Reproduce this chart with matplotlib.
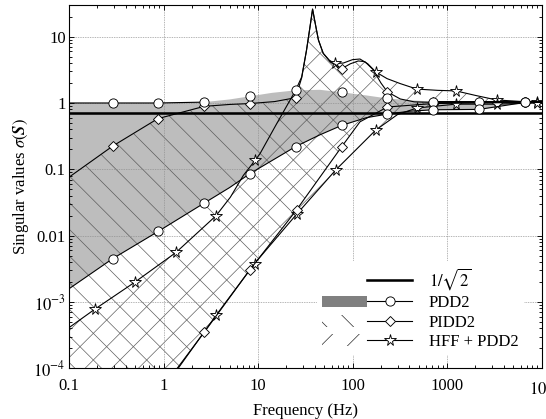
import numpy as np
import matplotlib
matplotlib.use("Agg")
import matplotlib.pyplot as plt
from matplotlib.patches import Patch
from matplotlib.lines import Line2D
from matplotlib.legend_handler import HandlerTuple
from matplotlib.ticker import FixedLocator, NullFormatter, LogLocator

# ---------------- data ----------------
pdd2_freq = [0.1, 0.29, 0.88, 2.7, 5, 8.2, 14, 25, 45, 77, 140, 234, 400, 710, 2180, 6700, 10000]
pdd2_max = [1.0, 1.0, 1.0, 1.03, 1.13, 1.26, 1.42, 1.55, 1.58, 1.45, 1.3, 1.17, 1.1, 1.05, 1.05, 1.05, 1.05]
pdd2_min = [1.58e-3, 4.5e-3, 0.0116, 0.031, 0.053, 0.086, 0.135, 0.22, 0.33, 0.46, 0.6, 0.68, 0.75, 0.79, 0.80, 1.02, 1.03]
pdd2_max_line_shown = [1, 1, 1, 1, 0, 0, 0, 0, 0, 0, 0, 0, 0, 1, 1, 1, 1]
pdd2_markers = [1, 2, 3, 5, 7, 9, 11, 13, 14, 15]

pidd2_max_freq = [0.1, 0.29, 0.87, 2.7, 5, 8.2, 15, 25, 29, 32.6, 35.5, 37.8, 41, 43.6, 49, 57,
                  77, 95, 115, 135, 165, 200, 234, 320, 450, 710, 2180, 6700, 10000]
pidd2_max = [0.076, 0.224, 0.58, 0.89, 0.95, 0.98, 1.05, 1.2, 2.4, 6.2, 14, 26, 14, 8.9, 5.6, 4.3,
             3.3, 3.9, 4.3, 4.2, 3.2, 2.0, 1.47, 1.15, 1.04, 1.02, 1.02, 1.03, 1.03]
pidd2_max_markers = [1, 2, 3, 5, 7, 16, 22, 25, 26, 27]

pidd2_min_freq = [0.1, 0.3, 1.0, 2.7, 8.2, 25.6, 77, 120, 234, 710, 2180, 6700, 10000]
pidd2_min = [5.5e-7, 5e-6, 5.3e-5, 3.5e-4, 3.05e-3, 0.0245, 0.22, 0.52, 0.87, 0.98, 1.0, 1.02, 1.02]
pidd2_min_markers = [3, 4, 5, 6, 8, 9, 10, 11]

hff_max_freq = [0.1, 0.188, 0.5, 1.36, 3.6, 5.1, 7.0, 9.3, 10.5, 15.8, 25, 29, 32.6, 35.5, 37.8, 41,
                43.6, 49, 57, 65, 80, 100, 120, 145, 176, 232, 320, 480, 800, 1245, 2000, 3350, 8900, 10000]
hff_max = [4.1e-4, 7.8e-4, 2.0e-3, 5.6e-3, 0.02, 0.038, 0.081, 0.136, 0.172, 0.49, 1.55, 2.47, 6.25, 14,
           26, 14, 8.9, 5.6, 4.4, 3.94, 4.0, 4.5, 4.6, 3.9, 2.94, 2.33, 1.96, 1.62, 1.55, 1.52, 1.3, 1.11, 1.02, 1.02]
hff_max_markers = [1, 2, 3, 4, 7, 19, 24, 27, 29, 31, 32]

hff_min_freq = [0.1, 0.3, 1.0, 3.6, 9.2, 25.6, 67, 176, 300, 480, 1245, 3350, 8900, 10000]
hff_min = [4.9e-7, 4.4e-6, 4.9e-5, 6.3e-4, 3.8e-3, 0.021, 0.099, 0.39, 0.67, 0.84, 0.96, 0.96, 1.0, 1.0]
hff_min_markers = [3, 4, 5, 6, 7, 9, 10, 11, 12]

one_over_sqrt2 = 0.7071

x_ticks = [0.1, 1, 10, 100, 1000, 10000]
x_tick_labels = ["0.1", "1", "10", "100", "1000", r"$10^4$"]
y_ticks = [1e-4, 1e-3, 0.01, 0.1, 1, 10]
y_tick_labels = [r"$10^{-4}$", r"$10^{-3}$", "0.01", "0.1", "1", "10"]

legend_labels = [r"$1/\sqrt{2}$", "PDD2", "PIDD2", "HFF + PDD2"]

# ---------------- style ----------------
plt.rcParams["font.family"] = "serif"
plt.rcParams["font.serif"] = ["Liberation Serif", "DejaVu Serif"]
plt.rcParams["mathtext.fontset"] = "stix"
plt.rcParams["hatch.linewidth"] = 0.6
plt.rcParams["font.size"] = 15

DPI = 80
fig = plt.figure(figsize=(546 / DPI, 419 / DPI), dpi=DPI)
ax = fig.add_axes([69 / 546, (419 - 368.3) / 419, (541.5 - 69) / 546, (368.3 - 5) / 419])
ax.set_xscale("log")
ax.set_yscale("log")

gray = "#bdbdbd"
hatch_col = "#5a5a5a"

# fills
ax.fill_between(pdd2_freq, pdd2_min, pdd2_max, facecolor=gray, edgecolor="none", linewidth=0, zorder=0.5)
ax.fill(np.concatenate([pidd2_max_freq, pidd2_min_freq[::-1]]),
        np.concatenate([pidd2_max, pidd2_min[::-1]]),
        facecolor="none", edgecolor=hatch_col, hatch="\\", linewidth=0, zorder=0.8)
ax.fill(np.concatenate([hff_max_freq, hff_min_freq[::-1]]),
        np.concatenate([hff_max, hff_min[::-1]]),
        facecolor="none", edgecolor=hatch_col, hatch="/", linewidth=0, zorder=0.8)

# grid
ax.set_axisbelow("line")
ax.grid(True, which="major", color="#8c8c8c", linestyle=(0, (1, 1.2)), linewidth=0.7)

lw = 1.0
mk = dict(markerfacecolor="white", markeredgecolor="black", markeredgewidth=0.8)

# 1/sqrt2
ax.axhline(one_over_sqrt2, color="black", linewidth=2.3, zorder=3)

# HFF + PDD2 (stars)
ax.plot(hff_max_freq, hff_max, color="black", lw=lw, marker="*", ms=10.5, markevery=hff_max_markers, zorder=4, **mk)
ax.plot(hff_min_freq, hff_min, color="black", lw=lw, marker="*", ms=10.5, markevery=hff_min_markers, zorder=4, **mk)
# PIDD2 (diamonds)
ax.plot(pidd2_max_freq, pidd2_max, color="black", lw=lw, marker="D", ms=6.3, markevery=pidd2_max_markers, zorder=5, **mk)
ax.plot(pidd2_min_freq, pidd2_min, color="black", lw=lw, marker="D", ms=6.3, markevery=pidd2_min_markers, zorder=5, **mk)
# PDD2 (circles)
pf = np.array(pdd2_freq)
pmax = np.array(pdd2_max)
shown = np.array(pdd2_max_line_shown, dtype=bool)
ax.plot(pf, np.where(shown, pmax, np.nan), color="black", lw=lw, zorder=6)
ax.plot(pf[pdd2_markers], pmax[pdd2_markers], linestyle="none", marker="o", ms=8.3, zorder=6, **mk)
ax.plot(pdd2_freq, pdd2_min, color="black", lw=lw, marker="o", ms=8.3, markevery=pdd2_markers, zorder=6, **mk)

# axes
ax.set_xlim(0.1, 10000)
ax.set_ylim(1e-4, 30)
ax.xaxis.set_major_locator(FixedLocator(x_ticks))
ax.set_xticklabels(x_tick_labels)
ax.yaxis.set_major_locator(FixedLocator(y_ticks))
ax.set_yticklabels(y_tick_labels)
ax.xaxis.set_minor_locator(LogLocator(base=10, subs=np.arange(2, 10), numticks=20))
ax.yaxis.set_minor_locator(LogLocator(base=10, subs=np.arange(2, 10), numticks=20))
ax.xaxis.set_minor_formatter(NullFormatter())
ax.yaxis.set_minor_formatter(NullFormatter())
ax.tick_params(which="both", direction="in", top=True, right=True, width=0.8, labelsize=15)
ax.tick_params(which="major", length=4.5)
ax.tick_params(which="minor", length=2.7)
ax.tick_params(axis="x", pad=8.7)
ax.tick_params(axis="y", pad=3)
for s in ax.spines.values():
    s.set_linewidth(1.0)

ax.set_xlabel("Frequency (Hz)", fontsize=15, labelpad=4.7)
ax.set_ylabel(r"Singular values $\sigma(\boldsymbol{S})$", fontsize=15, labelpad=2)

# legend
blank = Patch(facecolor="none", edgecolor="none")
h1 = (blank, Line2D([], [], color="black", lw=2.3))
h2 = (Patch(facecolor="#808080", edgecolor="none"), Line2D([], [], color="black", lw=lw, marker="o", ms=8.3, **mk))
h3 = (Patch(facecolor="white", edgecolor="#222222", hatch="\\", linewidth=0),
      Line2D([], [], color="black", lw=lw, marker="D", ms=6.3, **mk))
h4 = (Patch(facecolor="white", edgecolor="#222222", hatch="/", linewidth=0),
      Line2D([], [], color="black", lw=lw, marker="*", ms=10.5, **mk))
leg = ax.legend([h1, h2, h3, h4], legend_labels,
                handler_map={tuple: HandlerTuple(ndivide=None, pad=0)},
                loc="lower right", bbox_to_anchor=(0.962, 0.037), borderaxespad=0,
                frameon=True, fancybox=False, framealpha=1, facecolor="white", edgecolor="none",
                handlelength=5.4, handletextpad=1.0, labelspacing=0.2, borderpad=0.3, fontsize=15)
leg.set_zorder(10)

fig.savefig("out.png", dpi=DPI)
